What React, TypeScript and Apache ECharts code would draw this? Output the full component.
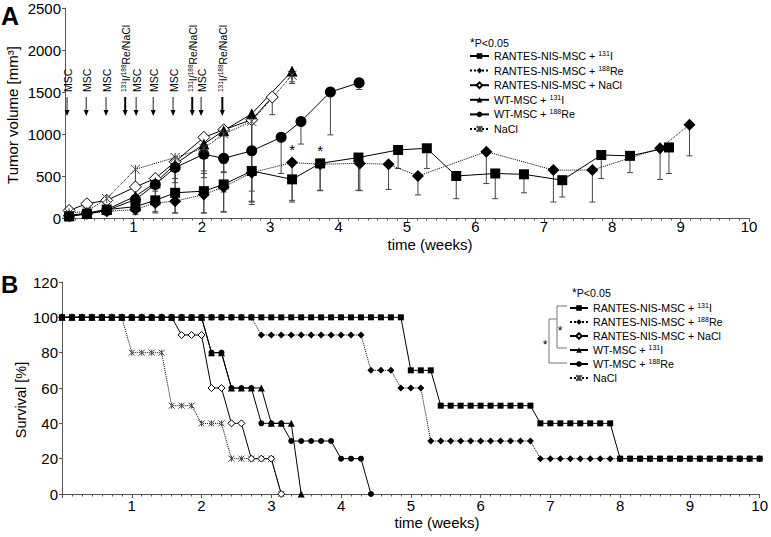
import React, { useEffect, useRef } from 'react';
import * as echarts from 'echarts';

const FONT = "'Liberation Sans', Arial, Helvetica, sans-serif";

const seriesNames = [
  'RANTES-NIS-MSC + 131I',
  'RANTES-NIS-MSC + 188Re',
  'RANTES-NIS-MSC + NaCl',
  'WT-MSC + 131I',
  'WT-MSC + 188Re',
  'NaCl',
];
const legendLabels = [
  'RANTES-NIS-MSC + {sup|131}I',
  'RANTES-NIS-MSC + {sup|188}Re',
  'RANTES-NIS-MSC + NaCl',
  'WT-MSC + {sup|131}I',
  'WT-MSC + {sup|188}Re',
  'NaCl',
];

// ---------- Panel A: tumor volume (weeks, mm3, lower error) ----------
const wkR131 = [0.06, 0.32, 0.61, 1.03, 1.32, 1.61, 2.03, 2.32, 2.73, 3.32, 3.73, 4.29, 4.87, 5.29, 5.72, 6.29, 6.71, 7.27, 7.84, 8.26, 8.83];
const volR131 = [20, 50, 100, 135, 210, 300, 320, 400, 560, 460, 650, 720, 810, 830, 500, 530, 520, 450, 750, 740, 840];
const errR131 = [10, 20, 30, 70, 135, 240, 260, 325, 370, 270, 320, 390, 220, 240, 270, 300, 220, 200, 280, 200, 310];

const wkR188 = [0.06, 0.32, 0.61, 1.03, 1.32, 1.61, 2.03, 2.32, 2.73, 3.32, 3.73, 4.31, 4.73, 5.16, 6.16, 7.14, 7.71, 8.70, 9.13];
const volR188 = [30, 50, 80, 100, 180, 200, 280, 370, 540, 660, 640, 650, 640, 500, 790, 570, 570, 830, 1110];
const errR188 = [10, 20, 30, 60, 120, 140, 220, 300, 380, 450, 315, 325, 300, 225, 380, 380, 380, 370, 370];
const starIdxR188 = [9, 10];

const wkRNaCl = [0.06, 0.32, 0.61, 1.03, 1.32, 1.61, 2.03, 2.32, 2.73, 3.03];
const volRNaCl = [90, 170, 210, 370, 470, 670, 960, 1050, 1170, 1440];
const errRNaCl = [20, 40, 60, 150, 150, 250, 400, 500, 850, 210];

const wkWT131 = [0.06, 0.32, 0.61, 1.03, 1.32, 1.61, 2.03, 2.32, 2.73, 3.32];
const volWT131 = [30, 60, 100, 260, 420, 640, 880, 1040, 1240, 1750];
const errWT131 = [10, 20, 30, 150, 200, 300, 400, 500, 700, 130];

const wkWT188 = [0.06, 0.32, 0.61, 1.03, 1.32, 1.61, 2.03, 2.32, 2.73, 3.16, 3.45, 3.88, 4.30];
const volWT188 = [20, 50, 90, 220, 400, 600, 760, 710, 800, 960, 1150, 1500, 1610];
const errWT188 = [10, 20, 30, 100, 150, 300, 500, 400, 600, 430, 270, 510, 80];

const wkNaCl = [0.06, 0.32, 0.61, 1.03, 1.61, 2.03, 2.32, 2.73, 3.32];
const volNaCl = [60, 80, 230, 580, 720, 830, 1000, 1150, 1700];
const errNaCl = [20, 30, 60, 200, 250, 300, 350, 400, 100];

// treatment annotations (weeks)
const treatWeeks = [0.03, 0.31, 0.6, 0.88, 1.04, 1.29, 1.58, 1.86, 1.99, 2.3];
const treatKinds = ['MSC', 'MSC', 'MSC', 'iso', 'MSC', 'MSC', 'MSC', 'iso', 'MSC', 'iso'];

// ---------- Panel B: survival (%) per day from day 0 ----------
const survR131 = [
  100, 100, 100, 100, 100, 100, 100, 100, 100, 100,
  100, 100, 100, 100, 100, 100, 100, 100, 100, 100,
  100, 100, 100, 100, 100, 100, 100, 100, 100, 100,
  100, 100, 100, 100, 100,
  70, 70, 70,
  50, 50, 50, 50, 50, 50, 50, 50, 50, 50,
  40, 40, 40, 40, 40, 40, 40, 40,
  20, 20, 20, 20, 20, 20, 20, 20, 20, 20, 20, 20, 20, 20, 20,
];
const survR188 = [
  100, 100, 100, 100, 100, 100, 100, 100, 100, 100,
  100, 100, 100, 100, 100, 100, 100, 100, 100, 100,
  90, 90, 90, 90, 90, 90, 90, 90, 90, 90, 90,
  70, 70, 70,
  60, 60, 60,
  30, 30, 30, 30, 30, 30, 30, 30, 30, 30, 30,
  20, 20, 20, 20, 20, 20, 20, 20, 20, 20, 20, 20,
  20, 20, 20, 20, 20, 20, 20, 20, 20, 20, 20,
];
const survRNaCl = [100, 100, 100, 100, 100, 100, 100, 100, 100, 100, 100, 100, 90, 90, 90, 60, 60, 40, 40, 20, 20, 20, 0];
const survWT131 = [100, 100, 100, 100, 100, 100, 100, 100, 100, 100, 100, 100, 100, 100, 100, 80, 80, 60, 60, 60, 60, 40, 40, 40, 0];
const survWT188 = [100, 100, 100, 100, 100, 100, 100, 100, 100, 100, 100, 100, 100, 100, 100, 80, 80, 60, 60, 60, 40, 40, 40, 30, 30, 30, 30, 30, 20, 20, 20, 0];
const survNaCl = [100, 100, 100, 100, 100, 100, 100, 80, 80, 80, 80, 50, 50, 50, 40, 40, 40, 20, 20, 20, 20, 20, 0];

const X_SYMBOL = 'path://M0,0L10,10M10,0L0,10M5,0L5,10';

const styles = [
  { symbol: 'rect', dotted: false, open: false },
  { symbol: 'diamond', dotted: true, open: false },
  { symbol: 'diamond', dotted: false, open: true },
  { symbol: 'triangle', dotted: false, open: false },
  { symbol: 'circle', dotted: false, open: false },
  { symbol: X_SYMBOL, dotted: true, open: true },
];
const sizeA = [10, 12, 12, 11, 11, 9];
const sizeB = [6, 7, 7, 7, 6, 6];

const wkA = [wkR131, wkR188, wkRNaCl, wkWT131, wkWT188, wkNaCl];
const volA = [volR131, volR188, volRNaCl, volWT131, volWT188, volNaCl];
const errA = [errR131, errR188, errRNaCl, errWT131, errWT188, errNaCl];
const survB = [survR131, survR188, survRNaCl, survWT131, survWT188, survNaCl];

function itemStyleFor(i: number) {
  if (i === 5) return { color: '#fff', borderColor: '#444', borderWidth: 1 };
  if (styles[i].open) return { color: '#fff', borderColor: '#000', borderWidth: 1 };
  return { color: '#000' };
}

export default function App() {
  const ref = useRef<HTMLDivElement>(null);
  useEffect(() => {
    if (!ref.current) return;
    const chart = echarts.init(ref.current, null, { renderer: 'svg' });

    const richMap: Record<string, string> = {};
    seriesNames.forEach((n, i) => (richMap[n] = legendLabels[i]));

    const series: any[] = [];

    // error bars (panel A)
    const errData: number[][] = [];
    for (let s = 0; s < 6; s++) {
      wkA[s].forEach((w, j) => errData.push([w, volA[s][j], errA[s][j]]));
    }
    series.push({
      type: 'custom',
      xAxisIndex: 0,
      yAxisIndex: 0,
      z: 1,
      silent: true,
      encode: { x: 0, y: 1 },
      data: errData,
      renderItem: (params: any, api: any) => {
        const x = api.value(0);
        const y = api.value(1);
        const e = api.value(2);
        const top = api.coord([x, y]);
        const bot = api.coord([x, Math.max(0, y - e)]);
        return {
          type: 'group',
          children: [
            { type: 'line', shape: { x1: top[0], y1: top[1], x2: bot[0], y2: bot[1] }, style: { stroke: '#444', lineWidth: 1 } },
            { type: 'line', shape: { x1: bot[0] - 3, y1: bot[1], x2: bot[0] + 3, y2: bot[1] }, style: { stroke: '#444', lineWidth: 1 } },
          ],
        };
      },
    });

    // treatment annotations (panel A)
    series.push({
      type: 'custom',
      xAxisIndex: 0,
      yAxisIndex: 0,
      z: 5,
      silent: true,
      data: treatWeeks.map((w) => [w, 1500]),
      renderItem: (params: any, api: any) => {
        const p = api.coord([api.value(0), 1500]);
        const iso = treatKinds[params.dataIndex] === 'iso';
        return {
          type: 'group',
          children: [
            {
              type: 'text',
              x: p[0] + 0.5,
              y: p[1],
              rotation: Math.PI / 2,
              style: {
                text: iso ? '{s|131}I/{s|188}Re/NaCl' : 'MSC',
                fontSize: 10.5,
                fontFamily: FONT,
                fill: '#000',
                align: 'left',
                verticalAlign: 'middle',
                lineHeight: 12,
                rich: { s: { fontSize: 6.5, fontFamily: FONT, verticalAlign: 'top', lineHeight: 12, fill: '#000' } },
              },
            },
            { type: 'line', shape: { x1: p[0], y1: p[1] + 5, x2: p[0], y2: p[1] + 19 }, style: { stroke: iso ? '#000' : '#333', lineWidth: iso ? 2 : 1.1 } },
            {
              type: 'polygon',
              shape: { points: [[p[0] - 2.5, p[1] + 18], [p[0] + 2.5, p[1] + 18], [p[0], p[1] + 24]] },
              style: { fill: '#000' },
            },
          ],
        };
      },
    });

    // panel A lines
    for (let s = 0; s < 6; s++) {
      series.push({
        type: 'line',
        name: seriesNames[s],
        xAxisIndex: 0,
        yAxisIndex: 0,
        z: 3 + (s === 0 ? 1 : 0),
        symbol: styles[s].symbol,
        symbolSize: sizeA[s],
        showAllSymbol: true,
        lineStyle: { color: '#000', width: 1, type: styles[s].dotted ? 'dotted' : 'solid' },
        itemStyle: itemStyleFor(s),
        data: wkA[s].map((w, j) => {
          const item: any = { value: [w, volA[s][j]] };
          if (s === 1 && starIdxR188.includes(j)) {
            item.label = { show: true, formatter: '*', position: 'top', distance: 0, fontSize: 15, fontFamily: FONT, color: '#000' };
          }
          return item;
        }),
      });
    }

    // panel B lines (draw order so that squares are on top)
    const orderB = [5, 2, 3, 4, 1, 0];
    orderB.forEach((s, k) => {
      series.push({
        type: 'line',
        name: seriesNames[s],
        xAxisIndex: 1,
        yAxisIndex: 1,
        z: 3 + k * 0.1,
        symbol: styles[s].symbol,
        symbolSize: sizeB[s],
        showAllSymbol: true,
        lineStyle: { color: '#000', width: 1, type: styles[s].dotted ? 'dotted' : 'solid' },
        itemStyle: itemStyleFor(s),
        data: survB[s].map((v, d) => [d / 7, v]),
      });
    });

    const legendCommon = {
      orient: 'vertical',
      selectedMode: false,
      padding: 0,
      itemHeight: 7,
      data: seriesNames,
      formatter: (name: string) => richMap[name],
      textStyle: {
        fontSize: 10.7,
        fontFamily: FONT,
        color: '#000',
        lineHeight: 12,
        rich: { sup: { fontSize: 7, fontFamily: FONT, color: '#000', verticalAlign: 'top', lineHeight: 12 } },
      },
    };

    const axisLineStyle = { color: '#555', width: 1 };
    const xAxisBase = {
      type: 'value',
      min: 0,
      max: 10,
      interval: 1,
      axisLine: { show: true, onZero: false, lineStyle: axisLineStyle },
      axisTick: { show: true, length: 4, lineStyle: axisLineStyle },
      minorTick: { show: true, splitNumber: 7, length: 2.5, lineStyle: axisLineStyle },
      splitLine: { show: false },
      minorSplitLine: { show: false },
    };
    const xLabel = (margin: number) => ({
      fontSize: 15,
      fontFamily: FONT,
      color: '#000',
      margin,
      lineHeight: 12,
      formatter: (v: number) => (v === 0 ? '' : String(v)),
    });
    const yLabel = { fontSize: 15, fontFamily: FONT, color: '#000', margin: 4, formatter: (v: number) => String(v) };

    chart.setOption({
      animation: false,
      backgroundColor: '#fff',
      grid: [
        { left: 65, right: 22, top: 8, height: 210 },
        { left: 62, right: 6, top: 282, height: 212 },
      ],
      xAxis: [
        { ...xAxisBase, gridIndex: 0, axisLabel: xLabel(2) },
        { ...xAxisBase, gridIndex: 1, axisLabel: xLabel(5) },
      ],
      yAxis: [
        {
          type: 'value', gridIndex: 0, min: 0, max: 2500, interval: 500,
          axisLine: { show: true, lineStyle: axisLineStyle },
          axisTick: { show: true, length: 3, lineStyle: axisLineStyle },
          splitLine: { show: false },
          axisLabel: yLabel,
        },
        {
          type: 'value', gridIndex: 1, min: 0, max: 120, interval: 20,
          axisLine: { show: true, lineStyle: axisLineStyle },
          axisTick: { show: true, length: 3, lineStyle: axisLineStyle },
          splitLine: { show: false },
          axisLabel: yLabel,
        },
      ],
      legend: [
        { ...legendCommon, left: 469, top: 50, itemWidth: 19, itemGap: 2.6 },
        { ...legendCommon, left: 569, top: 302, itemWidth: 18, itemGap: 2.0 },
      ],
      graphic: [
        { type: 'text', left: 1, top: 3, style: { text: 'A', fontSize: 25, fontWeight: 'bold', fontFamily: FONT, fill: '#000' } },
        { type: 'text', left: 1, top: 272, style: { text: 'B', fontSize: 24, fontWeight: 'bold', fontFamily: FONT, fill: '#000' } },
        {
          type: 'text', x: 12, y: 115, rotation: Math.PI / 2,
          style: { text: 'Tumor volume [mm³]', fontSize: 15, fontFamily: FONT, fill: '#000', align: 'center', verticalAlign: 'middle' },
        },
        {
          type: 'text', x: 21, y: 400, rotation: Math.PI / 2,
          style: { text: 'Survival [%]', fontSize: 14.5, fontFamily: FONT, fill: '#000', align: 'center', verticalAlign: 'middle' },
        },
        { type: 'text', x: 430, y: 244, style: { text: 'time (weeks)', fontSize: 15, lineHeight: 12, fontFamily: FONT, fill: '#000', align: 'center', verticalAlign: 'middle' } },
        { type: 'text', x: 437, y: 522, style: { text: 'time (weeks)', fontSize: 15, lineHeight: 12, fontFamily: FONT, fill: '#000', align: 'center', verticalAlign: 'middle' } },
        {
          type: 'text', x: 470, y: 43,
          style: {
            text: '{st|*}P<0.05', fontSize: 10.7, fontFamily: FONT, fill: '#000', align: 'left', verticalAlign: 'middle', lineHeight: 13,
            rich: { st: { fontSize: 12, fontFamily: FONT, verticalAlign: 'top', lineHeight: 13, fill: '#000' } },
          },
        },
        {
          type: 'text', x: 572, y: 293,
          style: {
            text: '{st|*}P<0.05', fontSize: 10.7, fontFamily: FONT, fill: '#000', align: 'left', verticalAlign: 'middle', lineHeight: 13,
            rich: { st: { fontSize: 12, fontFamily: FONT, verticalAlign: 'top', lineHeight: 13, fill: '#000' } },
          },
        },
        // significance brackets in legend B
        { type: 'polyline', shape: { points: [[567, 306], [557, 306], [557, 348], [567, 348]] }, style: { stroke: '#777', lineWidth: 1, fill: 'none' } },
        { type: 'polyline', shape: { points: [[557, 319], [549, 319], [549, 363], [567, 363]] }, style: { stroke: '#777', lineWidth: 1, fill: 'none' } },
        { type: 'text', x: 560, y: 331, style: { text: '*', fontSize: 12, fontFamily: FONT, fill: '#000', align: 'center', verticalAlign: 'middle' } },
        { type: 'text', x: 545, y: 345, style: { text: '*', fontSize: 12, fontFamily: FONT, fill: '#000', align: 'center', verticalAlign: 'middle' } },
      ],
      series,
    });
    return () => chart.dispose();
  }, []);
  return <div ref={ref} style={{ position: 'fixed', left: 0, top: 0, width: 771, height: 537, background: '#fff' }} />;
}
